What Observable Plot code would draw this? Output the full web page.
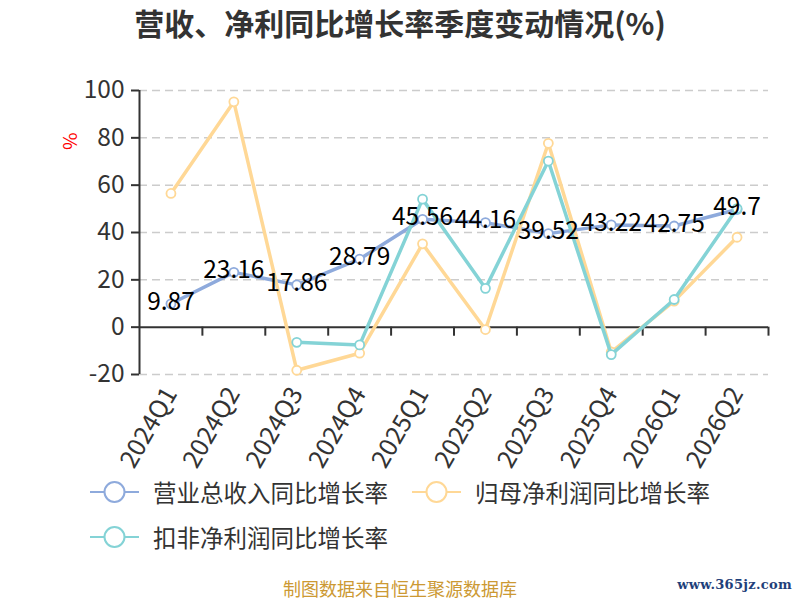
<!DOCTYPE html>
<html>
<head>
<meta charset="utf-8">
<script src="https://cdn.jsdelivr.net/npm/d3@7"></script>
<script src="https://cdn.jsdelivr.net/npm/@observablehq/plot@0.6"></script>
<style>
  body { margin: 0; background: #fff; font-family: "Noto Sans CJK SC", "Noto Sans", sans-serif; }
  #wrap { position: relative; width: 800px; height: 600px; overflow: hidden; }
  #title { position: absolute; left: 0; top: 0; width: 800px; text-align: center; font-size: 30px; font-weight: bold; color: #333; line-height: 44px; }
  #chart { position: absolute; left: 0; top: 50px; }
  .leg { position: absolute; display: flex; align-items: center; font-size: 23.5px; color: #333; white-space: nowrap; }
  .leg svg { margin-right: 13px; }
  #footer { position: absolute; left: 0; width: 800px; top: 576px; text-align: center; font-size: 18px; color: #cc9933; line-height: 24px; }
  #mark { position: absolute; right: 8px; top: 574px; font-family: "DejaVu Serif", "Liberation Serif", serif; font-weight: bold; font-size: 13px; letter-spacing: 0.3px; color: #1f3f7a; line-height: 22px; }
</style>
</head>
<body>
<div id="wrap">
  <div id="title">营收、净利同比增长率季度变动情况(%)</div>
  <div id="chart"></div>
  <div id="legend"></div>
  <div id="footer">制图数据来自恒生聚源数据库</div>
  <div id="mark">www.365jz.com</div>
</div>
<script>
const quarters = ["2024Q1","2024Q2","2024Q3","2024Q4","2025Q1","2025Q2","2025Q3","2025Q4","2026Q1","2026Q2"];
const revenueGrowth = [9.87, 23.16, 17.86, 28.79, 45.56, 44.16, 39.52, 43.22, 42.75, 49.7];
const netProfitGrowth = [56.5, 95.2, -18.2, -11.0, 35.2, -1.0, 77.7, -10.5, 11.0, 38.0];
const deductedProfitGrowth = [null, null, -6.4, -7.5, 54.1, 16.4, 70.2, -11.6, 11.7, 50.1];
const seriesNames = ["营业总收入同比增长率", "归母净利润同比增长率", "扣非净利润同比增长率"];
const seriesColors = ["#8eaadc", "#ffd896", "#84d3d6"];
const yTicks = [-20, 0, 20, 40, 60, 80, 100];

const toRows = (vals) => vals.map((v, i) => ({x: i + 0.5, q: quarters[i], v}));
const rev = toRows(revenueGrowth);
const net = toRows(netProfitGrowth);
const ded = toRows(deductedProfitGrowth);

const font = '"Noto Sans CJK SC", "Noto Sans", sans-serif';

const chart = Plot.plot({
  width: 800,
  height: 420,
  marginTop: 40,
  marginBottom: 96,
  marginLeft: 139,
  marginRight: 32,
  style: {fontFamily: font, background: "transparent", overflow: "visible"},
  x: {domain: [0, quarters.length], axis: null},
  y: {domain: [-20, 100], axis: null},
  marks: [
    Plot.ruleY(yTicks.filter(d => d !== 0), {stroke: "#cccccc", strokeWidth: 1.5, strokeDasharray: "8,5"}),
    Plot.axisY(yTicks, {anchor: "left", tickSize: 8, tickPadding: 7, fontSize: 24.5, color: "#333", strokeWidth: 2, label: null, tickFormat: d => String(d)}),
    Plot.axisX(quarters.map((q, i) => i + 0.5), {anchor: "bottom", tickSize: 0, tickPadding: 15, tickRotate: -60, fontSize: 25, color: "#333", tickFormat: d => quarters[Math.floor(d)], label: null}),
    Plot.ruleX(d3.range(1, quarters.length + 1), {y1: 0, y2: -3.8, stroke: "#333", strokeWidth: 2}),
    Plot.ruleY([0], {stroke: "#333", strokeWidth: 2}),
    Plot.ruleX([0], {stroke: "#333", strokeWidth: 2}),
    Plot.text(["%"], {frameAnchor: "top-left", dx: -63, dy: 42, rotate: 90, fill: "red", fontSize: 19}),
    Plot.line(rev, {x: "x", y: "v", stroke: seriesColors[0], strokeWidth: 3.5}),
    Plot.dot(rev, {x: "x", y: "v", r: 4.5, fill: "white", stroke: seriesColors[0], strokeWidth: 1.8}),
    Plot.line(net, {x: "x", y: "v", stroke: seriesColors[1], strokeWidth: 3.5}),
    Plot.dot(net.filter(d => d.v != null), {x: "x", y: "v", r: 4.5, fill: "white", stroke: seriesColors[1], strokeWidth: 1.8}),
    Plot.line(ded, {x: "x", y: "v", stroke: seriesColors[2], strokeWidth: 3.5}),
    Plot.dot(ded.filter(d => d.v != null), {x: "x", y: "v", r: 4.5, fill: "white", stroke: seriesColors[2], strokeWidth: 1.8}),
    Plot.text(rev, {x: "x", y: "v", text: d => String(d.v), fill: "black", fontSize: 24.5, dy: -2})
  ]
});
document.getElementById("chart").appendChild(chart);

// legend
const legendPos = [[90, 492], [412, 492], [90, 537]];
const legend = document.getElementById("legend");
seriesNames.forEach((name, i) => {
  const el = document.createElement("div");
  el.className = "leg";
  el.style.left = legendPos[i][0] + "px";
  el.style.top = (legendPos[i][1] - 15) + "px";
  el.style.height = "30px";
  const c = seriesColors[i];
  el.innerHTML = `<svg width="50" height="24"><line x1="0" y1="12" x2="49" y2="12" stroke="${c}" stroke-width="2"/><circle cx="24.5" cy="12" r="10" fill="white" stroke="${c}" stroke-width="2"/></svg><span>${name}</span>`;
  legend.appendChild(el);
});
</script>
</body>
</html>
